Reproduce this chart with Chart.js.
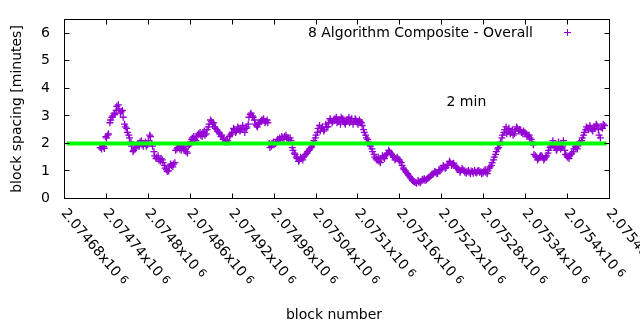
<!DOCTYPE html>
<html><head><meta charset="utf-8">
<script src="https://cdn.jsdelivr.net/npm/chart.js@4/dist/chart.umd.min.js"></script>
<style>html,body{margin:0;padding:0;background:#fff;}canvas{display:block;}</style>
</head><body>
<canvas id="c" width="640" height="330"></canvas>
<script>
const blocks = [
2074731,2074734,2074737,2074740,2074743,2074746,2074749,2074752,2074755,2074758,
2074761,2074764,2074767,2074770,2074773,2074776,2074779,2074782,2074785,2074788,
2074791,2074794,2074797,2074800,2074803,2074806,2074809,2074812,2074815,2074818,
2074821,2074824,2074827,2074830,2074833,2074836,2074839,2074842,2074845,2074848,
2074851,2074854,2074857,2074860,2074863,2074866,2074869,2074872,2074875,2074878,
2074881,2074884,2074887,2074890,2074893,2074896,2074899,2074902,2074905,2074908,
2074911,2074914,2074917,2074920,2074923,2074926,2074929,2074932,2074935,2074938,
2074941,2074944,2074947,2074950,2074953,2074956,2074959,2074962,2074965,2074968,
2074971,2074974,2074977,2074980,2074983,2074986,2074989,2074992,2074995,2074998,
2075001,2075004,2075007,2075010,2075013,2075016,2075019,2075022,2075025,2075028,
2075031,2075034,2075037,2075040,2075043,2075046,2075049,2075052,2075055,2075058,
2075061,2075064,2075067,2075070,2075073,2075076,2075079,2075082,2075085,2075088,
2075091,2075094,2075097,2075100,2075103,2075106,2075109,2075112,2075115,2075118,
2075121,2075124,2075127,2075130,2075133,2075136,2075139,2075142,2075145,2075148,
2075151,2075154,2075157,2075160,2075163,2075166,2075169,2075172,2075175,2075178,
2075181,2075184,2075187,2075190,2075193,2075196,2075199,2075202,2075205,2075208,
2075211,2075214,2075217,2075220,2075223,2075226,2075229,2075232,2075235,2075238,
2075241,2075244,2075247,2075250,2075253,2075256,2075259,2075262,2075265,2075268,
2075271,2075274,2075277,2075280,2075283,2075286,2075289,2075292,2075295,2075298,
2075301,2075304,2075307,2075310,2075313,2075316,2075319,2075322,2075325,2075328,
2075331,2075334,2075337,2075340,2075343,2075346,2075349,2075352,2075355,2075358,
2075361,2075364,2075367,2075370,2075373,2075376,2075379,2075382,2075385,2075388,
2075391,2075394,2075397,2075400,2075403,2075406,2075409,2075412,2075415,2075418,
2075421,2075424,2075427,2075430,2075433,2075436,2075439,2075442,2075445,2075448,
2075451
];
const spacing = [
1.85,1.9,1.82,2.2,2.35,2.85,3.0,3.05,3.35,3.25,
3.15,2.95,2.6,2.4,2.2,1.9,1.75,1.85,2.0,2.05,
1.95,2.0,1.9,2.1,2.25,1.9,1.55,1.5,1.4,1.45,
1.3,1.1,0.98,1.15,1.2,1.25,1.75,1.85,1.8,1.9,
1.75,1.7,1.9,2.05,2.2,2.15,2.25,2.35,2.3,2.4,
2.3,2.5,2.7,2.8,2.75,2.55,2.45,2.35,2.3,2.2,
2.1,2.05,2.3,2.4,2.5,2.45,2.55,2.5,2.65,2.4,
2.6,2.95,3.1,2.95,2.7,2.6,2.75,2.85,2.9,2.8,
2.75,1.85,2.0,1.95,2.05,2.1,2.15,2.2,2.25,2.2,
2.15,2.1,1.75,1.6,1.45,1.4,1.45,1.5,1.6,1.7,
1.8,1.9,2.1,2.3,2.55,2.45,2.6,2.5,2.6,2.75,
2.85,2.8,2.9,2.75,2.85,2.95,2.8,2.7,2.85,2.75,
2.9,2.8,2.85,2.7,2.8,2.65,2.4,2.2,2.05,1.9,
1.7,1.5,1.4,1.35,1.45,1.5,1.55,1.65,1.7,1.6,
1.5,1.45,1.45,1.35,1.2,1.05,0.95,0.85,0.75,0.65,
0.6,0.55,0.6,0.62,0.7,0.65,0.72,0.78,0.85,0.9,
0.95,0.92,1.0,1.1,1.15,1.12,1.25,1.3,1.25,1.2,
1.1,1.05,1.0,1.05,0.95,0.98,0.95,1.0,0.92,0.95,
1.0,0.95,0.9,1.0,0.95,1.0,1.15,1.3,1.5,1.7,
1.85,2.05,2.3,2.5,2.35,2.55,2.4,2.3,2.45,2.55,
2.5,2.4,2.45,2.35,2.3,2.2,2.05,1.6,1.5,1.45,
1.55,1.5,1.45,1.55,1.75,1.9,2.1,1.85,1.8,1.9,
1.85,2.1,1.6,1.5,1.55,1.65,1.8,1.85,1.95,2.0,
2.2,2.4,2.6,2.5,2.55,2.45,2.6,2.65,2.3,2.6,
2.7
];
const blocksB = [
2074733,2074736,2074739,2074742,2074745,2074748,2074751,2074754,2074757,2074760,
2074763,2074766,2074769,2074772,2074775,2074778,2074781,2074784,2074787,2074790,
2074793,2074796,2074799,2074802,2074805,2074808,2074811,2074814,2074817,2074820,
2074823,2074826,2074829,2074832,2074835,2074838,2074841,2074844,2074847,2074850,
2074853,2074856,2074859,2074862,2074865,2074868,2074871,2074874,2074877,2074880,
2074883,2074886,2074889,2074892,2074895,2074898,2074901,2074904,2074907,2074910,
2074913,2074916,2074919,2074922,2074925,2074928,2074931,2074934,2074937,2074940,
2074943,2074946,2074949,2074952,2074955,2074958,2074961,2074964,2074967,2074970,
2074973,2074976,2074979,2074982,2074985,2074988,2074991,2074994,2074997,2075000,
2075003,2075006,2075009,2075012,2075015,2075018,2075021,2075024,2075027,2075030,
2075033,2075036,2075039,2075042,2075045,2075048,2075051,2075054,2075057,2075060,
2075063,2075066,2075069,2075072,2075075,2075078,2075081,2075084,2075087,2075090,
2075093,2075096,2075099,2075102,2075105,2075108,2075111,2075114,2075117,2075120,
2075123,2075126,2075129,2075132,2075135,2075138,2075141,2075144,2075147,2075150,
2075153,2075156,2075159,2075162,2075165,2075168,2075171,2075174,2075177,2075180,
2075183,2075186,2075189,2075192,2075195,2075198,2075201,2075204,2075207,2075210,
2075213,2075216,2075219,2075222,2075225,2075228,2075231,2075234,2075237,2075240,
2075243,2075246,2075249,2075252,2075255,2075258,2075261,2075264,2075267,2075270,
2075273,2075276,2075279,2075282,2075285,2075288,2075291,2075294,2075297,2075300,
2075303,2075306,2075309,2075312,2075315,2075318,2075321,2075324,2075327,2075330,
2075333,2075336,2075339,2075342,2075345,2075348,2075351,2075354,2075357,2075360,
2075363,2075366,2075369,2075372,2075375,2075378,2075381,2075384,2075387,2075390,
2075393,2075396,2075399,2075402,2075405,2075408,2075411,2075414,2075417,2075420,
2075423,2075426,2075429,2075432,2075435,2075438,2075441,2075444,2075447,2075450,
2075453
];
const spacingB = [
1.8,1.88,2.25,2.3,2.75,2.95,3.1,3.2,3.4,3.1,
3.2,2.7,2.55,2.3,2.05,1.7,1.8,1.95,1.9,2.1,
1.9,2.05,1.95,2.3,2.0,1.7,1.45,1.55,1.35,1.4,
1.2,1.05,1.0,1.25,1.15,1.3,1.8,1.9,1.75,1.85,
1.8,1.65,1.95,2.15,2.25,2.1,2.3,2.4,2.25,2.45,
2.35,2.6,2.85,2.7,2.6,2.5,2.4,2.25,2.15,2.05,
2.1,2.25,2.35,2.55,2.4,2.6,2.45,2.55,2.5,2.55,
2.7,3.05,3.0,2.85,2.65,2.7,2.8,2.85,2.75,2.85,
2.0,1.9,2.05,2.0,2.15,2.2,2.25,2.15,2.3,2.2,
2.2,1.85,1.65,1.5,1.35,1.5,1.4,1.55,1.65,1.75,
1.85,2.0,2.2,2.4,2.65,2.55,2.45,2.7,2.6,2.9,
2.75,2.85,2.95,2.8,2.7,2.9,2.75,2.8,2.95,2.8,
2.7,2.9,2.75,2.85,2.75,2.5,2.3,2.15,1.95,1.8,
1.6,1.45,1.5,1.3,1.55,1.45,1.6,1.75,1.65,1.55,
1.4,1.5,1.4,1.3,1.1,1.0,0.9,0.8,0.7,0.62,
0.58,0.65,0.57,0.68,0.72,0.68,0.75,0.82,0.88,0.98,
0.9,1.05,1.05,1.2,1.1,1.2,1.35,1.2,1.28,1.15,
1.1,0.95,1.1,1.0,0.92,1.02,0.9,0.98,1.02,0.93,
1.02,0.97,0.93,1.05,0.9,1.1,1.2,1.4,1.6,1.8,
1.95,2.2,2.4,2.6,2.45,2.35,2.5,2.35,2.6,2.45,
2.5,2.35,2.4,2.25,2.3,2.15,1.95,1.55,1.4,1.5,
1.55,1.4,1.5,1.65,1.85,1.95,1.9,1.75,2.05,1.8,
1.9,1.75,1.55,1.45,1.6,1.7,1.9,1.8,2.05,2.1,
2.3,2.5,2.55,2.65,2.5,2.55,2.7,2.5,2.2,2.55,
2.65
];
const refBlocks = [2074683, 2075456];
const refValues = [2, 2];
const xTicks = [2074680,2074740,2074800,2074860,2074920,2074980,2075040,2075100,2075160,2075220,2075280,2075340,2075400,2075460];
const yTicks = [0,1,2,3,4,5,6];
const seriesLabel = '8 Algorithm Composite - Overall';
const refLabel = '2 min';
const xTitle = 'block number';
const yTitle = 'block spacing [minutes]';

const PURPLE = '#9400d3';
const FONT = '14px "DejaVu Sans"';

function fmtTick(v) {
  return String(parseFloat((v / 1e6).toFixed(5)));
}

const deco = {
  id: 'deco',
  afterDraw(chart) {
    const {ctx, chartArea: a, scales: {x, y}} = chart;
    ctx.save();
    ctx.strokeStyle = '#000';
    ctx.lineWidth = 1;
    ctx.strokeRect(a.left, a.top, a.right - a.left, a.bottom - a.top);
    const T = 5;
    ctx.beginPath();
    xTicks.forEach(v => {
      const px = Math.floor(x.getPixelForValue(v)) + 0.5;
      ctx.moveTo(px, a.bottom); ctx.lineTo(px, a.bottom - T);
      ctx.moveTo(px, a.top); ctx.lineTo(px, a.top + T);
    });
    yTicks.forEach(v => {
      const py = Math.floor(y.getPixelForValue(v)) + 0.5;
      ctx.moveTo(a.left, py); ctx.lineTo(a.left + T, py);
      ctx.moveTo(a.right, py); ctx.lineTo(a.right - T, py);
    });
    ctx.stroke();

    ctx.fillStyle = '#000';
    ctx.font = FONT;
    ctx.textAlign = 'right';
    ctx.textBaseline = 'middle';
    yTicks.forEach(v => ctx.fillText(String(v), 50, y.getPixelForValue(v)));

    xTicks.forEach(v => {
      const px = x.getPixelForValue(v);
      ctx.save();
      ctx.translate(px - 1, 211);
      ctx.rotate(50 * Math.PI / 180);
      ctx.textAlign = 'left';
      ctx.textBaseline = 'middle';
      ctx.font = FONT;
      const s = fmtTick(v) + 'x10';
      ctx.fillText(s, 0, 0);
      const w = ctx.measureText(s).width;
      ctx.font = '11px "DejaVu Sans"';
      ctx.fillText('6', w + 4, -1.5);
      ctx.restore();
    });

    ctx.font = FONT;
    ctx.textAlign = 'center';
    ctx.textBaseline = 'middle';
    ctx.fillText(xTitle, 334, 315);
    ctx.save();
    ctx.translate(17, 109);
    ctx.rotate(-Math.PI / 2);
    ctx.fillText(yTitle, 0, 0);
    ctx.restore();

    ctx.textAlign = 'right';
    ctx.fillText(seriesLabel, 533, 33);
    ctx.textAlign = 'left';
    ctx.fillText(refLabel, 446.5, 102);

    ctx.strokeStyle = PURPLE;
    ctx.beginPath();
    ctx.moveTo(564, 32.5); ctx.lineTo(571, 32.5);
    ctx.moveTo(567.5, 29); ctx.lineTo(567.5, 36);
    ctx.stroke();
    ctx.restore();
  }
};

const allBlocks = blocks.concat(blocksB);
const allSpacing = spacing.concat(spacingB);

new Chart(document.getElementById('c'), {
  data: {
    datasets: [
      {
        type: 'line',
        label: refLabel,
        data: refBlocks.map((b, i) => ({x: b, y: refValues[i]})),
        borderColor: '#00ff00',
        borderWidth: 4,
        pointRadius: 0,
        fill: false,
        order: 0
      },
      {
        type: 'scatter',
        label: seriesLabel,
        data: allBlocks.map((b, i) => ({x: b, y: allSpacing[i]})),
        pointStyle: 'cross',
        pointRadius: 3.5,
        pointBorderWidth: 1.3,
        borderColor: PURPLE,
        backgroundColor: PURPLE,
        showLine: false,
        order: 1
      }
    ]
  },
  options: {
    responsive: false,
    animation: false,
    devicePixelRatio: 1,
    layout: {padding: {left: 64.5, right: 30.5, top: 19.5, bottom: 131.5}},
    plugins: {legend: {display: false}, tooltip: {enabled: false}},
    scales: {
      x: {
        type: 'linear', min: 2074680, max: 2075460,
        ticks: {display: false, stepSize: 60},
        grid: {display: false}, border: {display: false},
        afterFit(s) { s.height = 0; }
      },
      y: {
        type: 'linear', min: 0, max: 6.5,
        ticks: {display: false, stepSize: 1},
        grid: {display: false}, border: {display: false},
        afterFit(s) { s.width = 0; }
      }
    }
  },
  plugins: [deco]
});
</script>
</body></html>
